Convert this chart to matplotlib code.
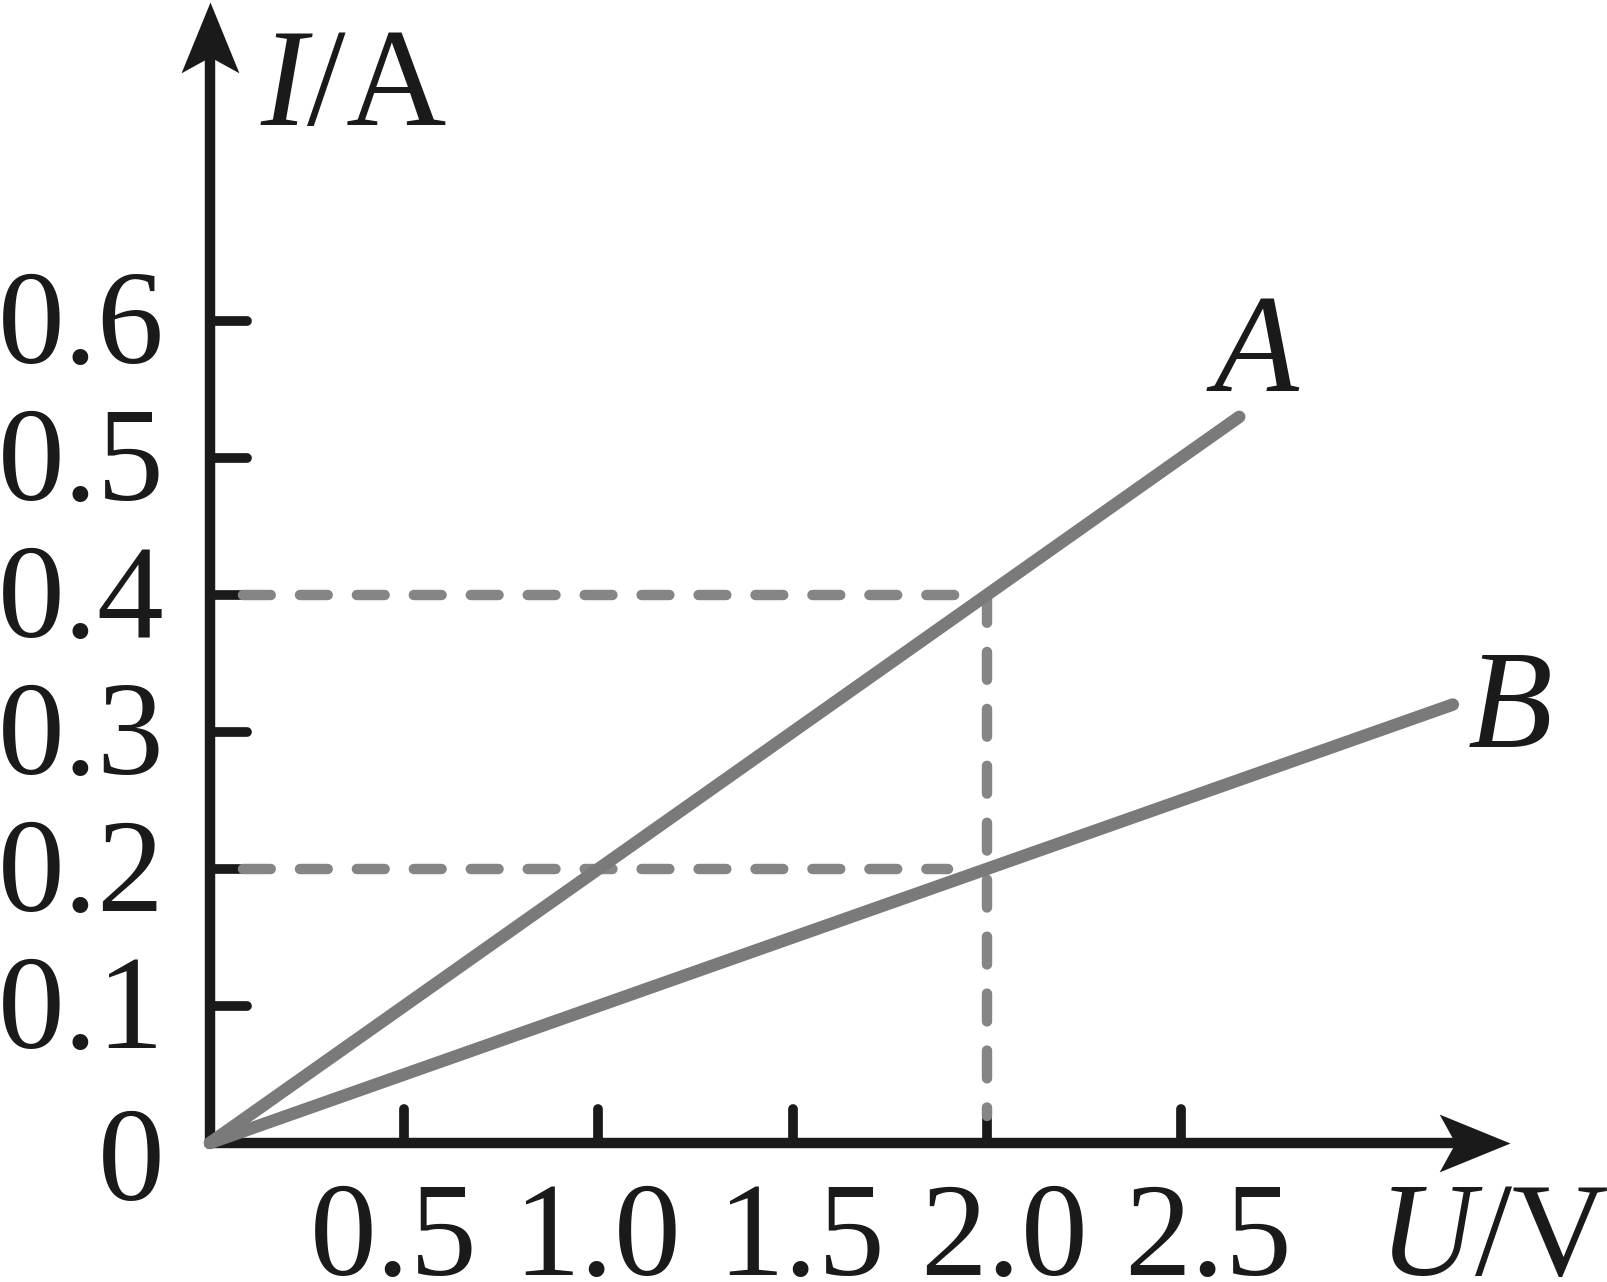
import matplotlib
matplotlib.use("Agg")
import matplotlib.pyplot as plt
from matplotlib.path import Path

plt.rcParams['font.family'] = ['Liberation Serif', 'DejaVu Serif']
plt.rcParams['mathtext.fontset'] = 'custom'
plt.rcParams['mathtext.it'] = 'Liberation Serif:italic'
plt.rcParams['mathtext.rm'] = 'Liberation Serif'
plt.rcParams['lines.scale_dashes'] = False

# data
u_ticks = [0.5, 1.0, 1.5, 2.0, 2.5]
u_labels = ['0.5', '1.0', '1.5', '2.0', '2.5']
i_ticks = [0.1, 0.2, 0.3, 0.4, 0.5, 0.6]
i_labels = ['0.1', '0.2', '0.3', '0.4', '0.5', '0.6']

line_A_u = [0.0, 2.65]
line_A_i = [0.0, 0.53]
line_B_u = [0.0, 3.2]
line_B_i = [0.0, 0.32]

# reading guides
guide_u = 2.0
guide_i_A = 0.4
guide_i_B = 0.2

black = '#1a1a1a'
gray = '#7a7a7a'

fig = plt.figure(figsize=(16.07, 12.82), dpi=100)
ax = fig.add_axes([0, 0, 1, 1])
ax.set_xlim(-0.5407, 3.597)
ax.set_ylim(-0.1015, 0.8343)
ax.axis('off')

# notched arrow heads as custom markers (tip at the plotted point)
head_right = Path([(0, 0), (-71, 29), (-55, 0), (-71, -29), (0, 0)],
                  [Path.MOVETO, Path.LINETO, Path.LINETO, Path.LINETO, Path.CLOSEPOLY])
head_up = Path([(0, 0), (-29, -71), (0, -55), (29, -71), (0, 0)],
               [Path.MOVETO, Path.LINETO, Path.LINETO, Path.LINETO, Path.CLOSEPOLY])

# axes
ax.plot([0, 0], [-0.003, 0.80], color=black, lw=7.5, solid_capstyle='butt', zorder=2)
ax.plot([-0.01, 3.22], [0, 0], color=black, lw=7.5, solid_capstyle='butt', zorder=2)
ax.plot([0], [0.8325], marker=head_up, ms=102, mew=0, color=black, zorder=2)
ax.plot([3.347], [0], marker=head_right, ms=102, mew=0, color=black, zorder=2)

# tick marks
for t in i_ticks:
    ax.plot([0, 0.095], [t, t], color=black, lw=7, solid_capstyle='round', zorder=2)
for t in u_ticks:
    ax.plot([t, t], [0, 0.025], color=black, lw=7, solid_capstyle='round', zorder=2)

# tick labels
for t, lab in zip(i_ticks, i_labels):
    ax.text(-0.118, t - 0.031, lab, fontsize=96, ha='right', va='baseline', color=black)
ax.text(-0.118, -0.042, '0', fontsize=96, ha='right', va='baseline', color=black)
for t, lab in zip(u_ticks, u_labels):
    ax.text(t + (t - 1.0) * 0.05 - 0.01, -0.0965, r'$\mathrm{%s}$' % lab, fontsize=96,
            ha='center', va='baseline', color=black)

# axis titles
ax.text(0.129, 0.743, r'$I$/A', fontsize=100, ha='left', va='baseline', color=black)
ax.text(3.007, -0.0965, r'$U$/V', fontsize=96, ha='left', va='baseline', color=black)

# the two lines
ax.plot(line_A_u, line_A_i, color=gray, lw=9, solid_capstyle='round', zorder=4)
ax.plot(line_B_u, line_B_i, color=gray, lw=9, solid_capstyle='round', zorder=4)
ax.text(2.585, 0.549, 'A', fontsize=100, style='italic', ha='left', va='baseline', color=black)
ax.text(3.239, 0.289, 'B', fontsize=100, style='italic', ha='left', va='baseline', color=black)

# dashed guides
dash = dict(color='#858585', lw=7.5, dashes=(20, 21), dash_capstyle='round', zorder=3)
ax.plot([0.085, 1.97], [guide_i_A, guide_i_A], **dash)
ax.plot([0.085, 1.9], [guide_i_B, guide_i_B], **dash)
ax.plot([guide_u, guide_u], [guide_i_A, 0.02], **dash)

fig.savefig('out.png', dpi=100)
